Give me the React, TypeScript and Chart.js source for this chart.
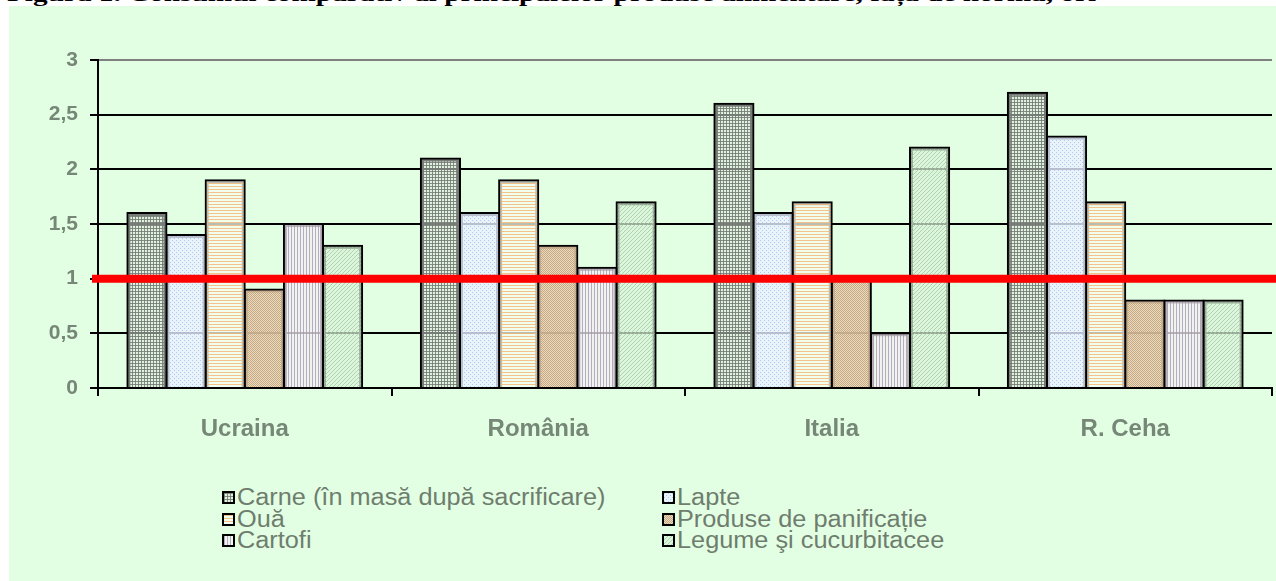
import React, { useEffect, useMemo, useRef } from 'react';
import { Chart, registerables } from 'chart.js';

Chart.register(...registerables);

// ---- data ----
const TITLE = 'Figura 1. Consumul comparativ al principalelor produse alimentare, față de normă, ori';
const CATEGORIES = ['Ucraina', 'România', 'Italia', 'R. Ceha'];
const SERIES_NAMES = [
  'Carne (în masă după sacrificare)',
  'Lapte',
  'Ouă',
  'Produse de panificație',
  'Cartofi',
  'Legume şi cucurbitacee',
];
const CARNE = [1.6, 2.1, 2.6, 2.7];
const LAPTE = [1.4, 1.6, 1.6, 2.3];
const OUA = [1.9, 1.9, 1.7, 1.7];
const PANIFICATIE = [0.9, 1.3, 1.0, 0.8];
const CARTOFI = [1.5, 1.1, 0.5, 0.8];
const LEGUME = [1.3, 1.7, 2.2, 0.8];
const Y_TICK_LABELS = ['0', '0,5', '1', '1,5', '2', '2,5', '3'];
const REFERENCE_LEVEL = 1;

// ---- styles ----
const PANEL_BG = '#E3FFE3';
const TICK_COLOR = '#778777';
const LEGEND_TEXT = '#6f7d6f';
const PATTERN_KINDS = ['grid', 'dots', 'hlines', 'checker', 'vlines', 'diag'];

function makeTile(kind: string): HTMLCanvasElement {
  const c = document.createElement('canvas');
  let w = 4, h = 4;
  if (kind === 'grid') { w = 3; h = 3; }
  if (kind === 'hlines') { w = 1; h = 3; }
  if (kind === 'checker') { w = 2; h = 2; }
  if (kind === 'vlines') { w = 3; h = 1; }
  c.width = w; c.height = h;
  const g = c.getContext('2d')!;
  if (kind === 'grid') {
    g.fillStyle = 'rgba(222,230,222,0.55)'; g.fillRect(0, 0, w, h);
    g.fillStyle = 'rgba(115,122,115,0.85)'; g.fillRect(0, 0, w, 1); g.fillRect(0, 0, 1, h);
  } else if (kind === 'dots') {
    g.fillStyle = 'rgba(234,241,255,0.8)'; g.fillRect(0, 0, w, h);
    g.fillStyle = 'rgba(160,182,235,0.75)'; g.fillRect(0, 0, 1, 1); g.fillRect(2, 2, 1, 1);
  } else if (kind === 'hlines') {
    g.fillStyle = 'rgba(246,252,240,0.75)'; g.fillRect(0, 0, w, h);
    g.fillStyle = 'rgba(244,180,115,0.8)'; g.fillRect(0, 0, w, 1);
  } else if (kind === 'checker') {
    g.fillStyle = 'rgba(230,212,184,0.85)'; g.fillRect(0, 0, w, h);
    g.fillStyle = 'rgba(196,160,122,0.85)'; g.fillRect(0, 0, 1, 1); g.fillRect(1, 1, 1, 1);
  } else if (kind === 'vlines') {
    g.fillStyle = 'rgba(244,240,246,0.75)'; g.fillRect(0, 0, w, h);
    g.fillStyle = 'rgba(168,152,178,0.8)'; g.fillRect(0, 0, 1, h);
  } else {
    g.fillStyle = 'rgba(218,240,218,0.7)'; g.fillRect(0, 0, w, h);
    g.fillStyle = 'rgba(160,205,160,0.8)';
    for (let i = 0; i < 4; i++) g.fillRect(i, 3 - i, 1, 1);
  }
  return c;
}

const refLinePlugin = {
  id: 'refLine',
  afterDatasetsDraw(chart: any) {
    const { ctx, chartArea, scales } = chart;
    const y = scales.y.getPixelForValue(REFERENCE_LEVEL);
    ctx.save();
    ctx.strokeStyle = '#FF0000';
    ctx.lineWidth = 8;
    ctx.beginPath();
    ctx.moveTo(chartArea.left - 6, y);
    ctx.lineTo(chart.width, y);
    ctx.stroke();
    ctx.restore();
  },
};

export default function App() {
  const canvasRef = useRef<HTMLCanvasElement>(null);
  const tiles = useMemo(() => PATTERN_KINDS.map(makeTile), []);
  const swatches = useMemo(() => tiles.map((t) => t.toDataURL()), [tiles]);

  useEffect(() => {
    const canvas = canvasRef.current!;
    const ctx = canvas.getContext('2d')!;
    const patterns = tiles.map((t) => ctx.createPattern(t, 'repeat')!);
    const seriesValues = [CARNE, LAPTE, OUA, PANIFICATIE, CARTOFI, LEGUME];
    const chart = new Chart(ctx, {
      type: 'bar',
      data: {
        labels: CATEGORIES,
        datasets: SERIES_NAMES.map((name, i) => ({
          label: name,
          data: seriesValues[i],
          backgroundColor: patterns[i] as any,
          borderColor: '#000000',
          borderWidth: 2,
          inflateAmount: 1,
          categoryPercentage: 0.8,
          barPercentage: 1,
        })),
      },
      options: {
        responsive: false,
        animation: false,
        devicePixelRatio: 1,
        layout: { padding: { top: 60, right: 4, left: 0, bottom: 0 } },
        plugins: {
          legend: { display: false },
          tooltip: { enabled: false },
        },
        scales: {
          x: {
            grid: { offset: true, drawOnChartArea: false, color: '#000', lineWidth: 2, tickLength: 8 },
            border: { color: '#000', width: 2 },
            ticks: {
              color: TICK_COLOR,
              padding: 19,
              font: { family: '"Liberation Sans", Arial, sans-serif', weight: 'bold', size: 24 },
            },
            afterFit: (s: any) => { s.height = 82; },
          },
          y: {
            min: 0,
            max: 3,
            ticks: {
              stepSize: 0.5,
              color: TICK_COLOR,
              padding: 12,
              font: { family: '"Liberation Sans", Arial, sans-serif', weight: 'bold', size: 21 },
              callback: (_v: any, i: number) => Y_TICK_LABELS[i],
            },
            grid: {
              color: (c: any) => (c.tick && c.tick.value === 3 ? '#808080' : '#000000'),
              tickColor: '#000000',
              lineWidth: 2,
              tickLength: 8,
            },
            border: { color: '#000', width: 2 },
            afterFit: (s: any) => { s.width = 98; },
          },
        },
      },
      plugins: [refLinePlugin],
    });
    return () => chart.destroy();
  }, [tiles]);

  const colX = [222, 662];
  const rowY = [497, 519, 540];

  return (
    <div style={{ position: 'fixed', left: 0, top: 0, width: 1276, height: 581, background: '#fff', overflow: 'hidden' }}>
      <div style={{ position: 'absolute', left: 0, top: 0, width: 1276, height: 6, overflow: 'hidden' }}>
        <div
          style={{
            position: 'absolute', left: 7, top: -17, whiteSpace: 'nowrap',
            fontFamily: '"Liberation Serif", "Times New Roman", serif', fontWeight: 'bold',
            fontSize: 22, lineHeight: '22px', color: '#000',
            transform: 'scaleX(1.33)', transformOrigin: 'left top',
          }}
        >
          {TITLE}
        </div>
      </div>
      <div style={{ position: 'absolute', left: 9, top: 6, right: 0, bottom: 0, background: PANEL_BG }} />
      <canvas ref={canvasRef} width={1276} height={470} style={{ position: 'absolute', left: 0, top: 0, display: 'block' }} />
      {SERIES_NAMES.map((name, i) => (
        <div
          key={name}
          style={{
            position: 'absolute', left: colX[i % 2], top: rowY[Math.floor(i / 2)] - 11, height: 22,
            display: 'flex', alignItems: 'center', whiteSpace: 'nowrap',
          }}
        >
          <div
            style={{
              width: 9, height: 9, border: '2px solid #000', flex: 'none',
              backgroundImage: `url(${swatches[i]})`, backgroundRepeat: 'repeat', backgroundColor: PANEL_BG,
            }}
          />
          <span
            style={{
              display: 'inline-block', marginLeft: 2, fontFamily: '"Liberation Sans", Arial, sans-serif', fontSize: 23,
              lineHeight: '22px', color: LEGEND_TEXT, transform: 'scaleX(1.1)', transformOrigin: 'left center',
            }}
          >
            {name}
          </span>
        </div>
      ))}
    </div>
  );
}
